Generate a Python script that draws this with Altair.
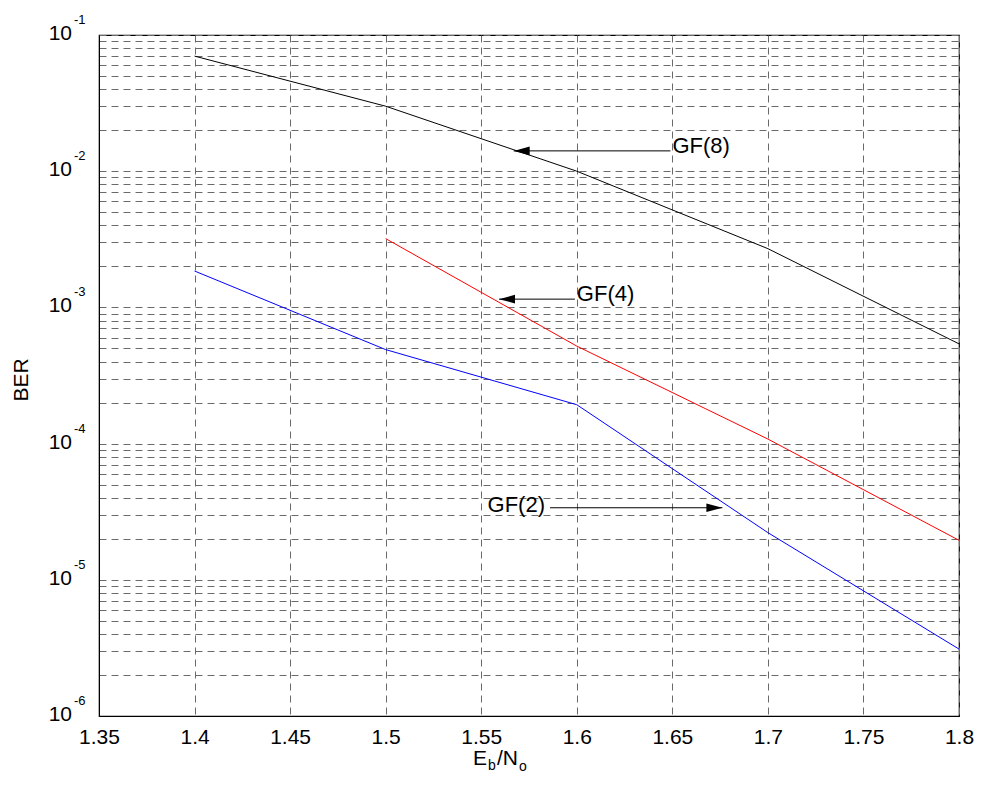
import altair as alt
import pandas as pd

# ---- data ----
ebno = [1.4, 1.5, 1.6, 1.7, 1.8]
ber_gf8 = [0.070, 0.030, 0.0100, 0.0027, 0.00054]
ebno_gf4 = [1.5, 1.6, 1.7, 1.8]
ber_gf4 = [0.0032, 0.00052, 0.000108, 0.0000195]
ber_gf2 = [0.00185, 0.00049, 0.000193, 0.0000222, 0.0000031]

series_names = ["GF(2)", "GF(4)", "GF(8)"]
series_colors = ["#0000ff", "#ff0000", "#000000"]

x_ticks = [1.35, 1.4, 1.45, 1.5, 1.55, 1.6, 1.65, 1.7, 1.75, 1.8]
decades = [1e-1, 1e-2, 1e-3, 1e-4, 1e-5, 1e-6]
decade_exps = ["-1", "-2", "-3", "-4", "-5", "-6"]
mantissas = [1, 2, 3, 4, 5, 6, 7, 8, 9]
y_grid = [m * 10.0 ** k for k in range(-6, -1) for m in mantissas] + [1e-1]

ann_labels = ["GF(8)", "GF(4)", "GF(2)"]
ann_ber = [0.0141, 0.00115, 0.0000338]
ann_from = [1.649, 1.599, 1.586]
ann_to = [1.567, 1.5593, 1.6762]

# ---- tables ----
rows = []
for x, y in zip(ebno, ber_gf2):
    rows.append({"ebno": x, "ber": y, "series": "GF(2)"})
for x, y in zip(ebno_gf4, ber_gf4):
    rows.append({"ebno": x, "ber": y, "series": "GF(4)"})
for x, y in zip(ebno, ber_gf8):
    rows.append({"ebno": x, "ber": y, "series": "GF(8)"})
df_lines = pd.DataFrame(rows)

df_ann = pd.DataFrame({"label": ann_labels, "ber": ann_ber,
                       "xfrom": ann_from, "xto": ann_to})
df_dec = pd.DataFrame({"ber": decades, "exp": decade_exps})

FONT = "Liberation Sans"
W, H = 860, 681
GRID = "#6a6a6a"

xscale = alt.Scale(domain=[1.35, 1.8], nice=False, zero=False)
yscale = alt.Scale(type="log", domain=[1e-6, 1e-1], nice=False)

x_axis = alt.Axis(values=x_ticks, grid=True, gridDash=[7, 5], gridColor=GRID,
                  gridWidth=1, ticks=False, tickSize=0, labelFlush=False,
                  labelOverlap=False, labelFont=FONT, labelFontSize=21,
                  labelColor="black", labelPadding=10,
                  labelExpr="format(datum.value, '~g')",
                  domainColor="black", title=None)
y_axis = alt.Axis(values=y_grid, grid=True, gridDash=[7, 5], gridColor=GRID,
                  gridWidth=1, ticks=False, tickSize=0, labels=False,
                  domainColor="black", title="BER", titleFont=FONT,
                  titleFontSize=21, titleFontWeight="normal", titleColor="black",
                  titleAngle=-90, titleX=-68, titleY=H / 2 + 4, titleAlign="center",
                  titleBaseline="bottom")

lines = alt.Chart(df_lines).mark_line(strokeWidth=1).encode(
    x=alt.X("ebno:Q", scale=xscale, axis=x_axis),
    y=alt.Y("ber:Q", scale=yscale, axis=y_axis),
    color=alt.Color("series:N", scale=alt.Scale(domain=series_names, range=series_colors),
                    legend=None),
)

shaft = alt.Chart(df_ann).mark_rule(color="black", strokeWidth=1).encode(
    x=alt.X("xfrom:Q", scale=xscale, title=None),
    x2="xto:Q",
    y=alt.Y("ber:Q", scale=yscale, title="BER"),
)

PATH_L = "M0,0L1,-0.27L1,0.27Z"
PATH_R = "M0,0L-1,-0.27L-1,0.27Z"
heads = alt.Chart(df_ann).mark_point(filled=True, color="black", opacity=1,
                                      size=1024, strokeWidth=0).encode(
    x=alt.X("xto:Q", scale=xscale, title=None),
    y=alt.Y("ber:Q", scale=yscale, title="BER"),
    shape=alt.condition("datum.xto < datum.xfrom", alt.value(PATH_L), alt.value(PATH_R)),
)

ann_left = alt.Chart(df_ann).transform_filter("datum.xto < datum.xfrom").mark_text(
    align="left", baseline="alphabetic", dx=2, dy=2, font=FONT, fontSize=22, color="black"
).encode(
    x=alt.X("xfrom:Q", scale=xscale, title=None),
    y=alt.Y("ber:Q", scale=yscale, title="BER"),
    text="label:N",
)
ann_right = alt.Chart(df_ann).transform_filter("datum.xto > datum.xfrom").mark_text(
    align="right", baseline="alphabetic", dx=-5, dy=4, font=FONT, fontSize=22, color="black"
).encode(
    x=alt.X("xfrom:Q", scale=xscale, title=None),
    y=alt.Y("ber:Q", scale=yscale, title="BER"),
    text="label:N",
)

# y tick labels: 10 with superscript exponent
ten = alt.Chart(df_dec).mark_text(
    align="right", baseline="alphabetic", dx=-27, dy=5, font=FONT, fontSize=21, color="black"
).encode(
    x=alt.value(0),
    y=alt.Y("ber:Q", scale=yscale, title="BER"),
    text=alt.value("10"),
)
expo = alt.Chart(df_dec).mark_text(
    align="left", baseline="alphabetic", dx=-25, dy=-11, font=FONT, fontSize=13, color="black"
).encode(
    x=alt.value(0),
    y=alt.Y("ber:Q", scale=yscale, title="BER"),
    text="exp:N",
)

# x axis title E_b/N_o
one = pd.DataFrame({"k": [0]})
t_E = alt.Chart(one).mark_text(align="left", baseline="alphabetic", font=FONT,
                               fontSize=21, color="black", text="E").encode(
    x=alt.value(374), y=alt.value(H + 49))
t_b = alt.Chart(one).mark_text(align="left", baseline="alphabetic", font=FONT,
                               fontSize=14, color="black", text="b").encode(
    x=alt.value(389), y=alt.value(H + 54))
t_N = alt.Chart(one).mark_text(align="left", baseline="alphabetic", font=FONT,
                               fontSize=21, color="black", text="/N").encode(
    x=alt.value(398), y=alt.value(H + 49))
t_o = alt.Chart(one).mark_text(align="left", baseline="alphabetic", font=FONT,
                               fontSize=14, color="black", text="o").encode(
    x=alt.value(420), y=alt.value(H + 55))

chart = alt.layer(
    lines, shaft, heads, ann_left, ann_right, ten, expo, t_E, t_b, t_N, t_o
).properties(
    width=W, height=H,
    autosize=alt.AutoSizeParams(type="none"),
    padding={"left": 91, "top": 27, "right": 16, "bottom": 69},
    background="white",
).configure_view(
    stroke="black", strokeWidth=1.2
)

chart.save("out.html", embed_options={"renderer": "svg", "actions": False})
